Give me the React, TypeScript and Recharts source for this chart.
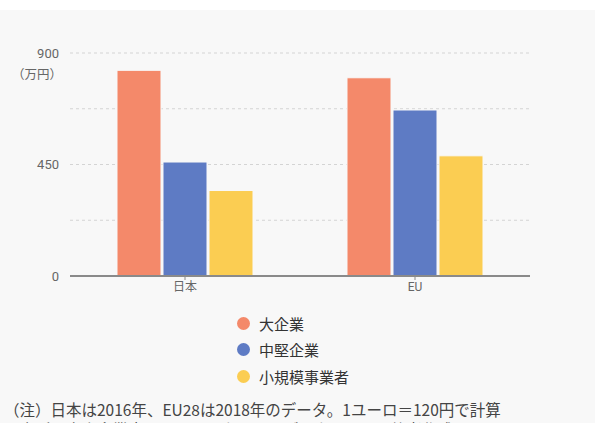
import React from "react";
import { BarChart, Bar, XAxis, YAxis, CartesianGrid } from "recharts";

const regions = ["日本", "EU"];
const large = [830, 800];
const medium = [460, 670];
const small = [345, 485];
const yTicks = [0, 450, 900];
const gridLines = [225, 450, 675, 900];

const seriesNames = ["大企業", "中堅企業", "小規模事業者"];
const colors = ["#f4896a", "#5e7bc4", "#fbcd52"];

const data = regions.map((r, i) => ({
  name: r,
  large: large[i],
  medium: medium[i],
  small: small[i],
}));

const font = "Roboto, 'Noto Sans CJK JP', sans-serif";
const jpFont = "'Noto Sans CJK JP', sans-serif";

const App: React.FC = () => {
  return (
    <div
      style={{
        position: "absolute",
        top: 0,
        left: 0,
        width: 595,
        height: 423,
        overflow: "hidden",
        background: "#fff",
        fontFamily: font,
      }}
    >
      <div style={{ position: "absolute", top: 10, left: 0, width: 595, height: 413, background: "#f8f8f8" }} />
      <div style={{ position: "absolute", top: 0, left: 0 }}>
        <BarChart
          width={595}
          height={300}
          data={data}
          margin={{ top: 53, right: 65, left: 0, bottom: 4 }}
          barSize={44}
          barGap={2}
        >
          <CartesianGrid
            vertical={false}
            horizontalValues={gridLines}
            stroke="#d4d4d4"
            strokeDasharray="3 3"
          />
          <YAxis
            domain={[0, 900]}
            ticks={yTicks}
            width={70}
            axisLine={false}
            tickLine={false}
            tickSize={0}
            tickMargin={11}
            tick={{ fontSize: 13, fill: "#666", fontFamily: font }}
          />
          <XAxis
            dataKey="name"
            height={20}
            axisLine={{ stroke: "#8a8a8a", strokeWidth: 2 }}
            tickLine={{ stroke: "#8a8a8a" }}
            tickSize={4}
            tick={{ fontSize: 12, fill: "#666", fontFamily: font }}
          />
          <Bar dataKey="large" fill={colors[0]} stroke="#f8f8f8" strokeWidth={1} isAnimationActive={false} />
          <Bar dataKey="medium" fill={colors[1]} stroke="#f8f8f8" strokeWidth={1} isAnimationActive={false} />
          <Bar dataKey="small" fill={colors[2]} stroke="#f8f8f8" strokeWidth={1} isAnimationActive={false} />
        </BarChart>
      </div>
      <div
        style={{
          position: "absolute",
          top: 64,
          left: 0,
          width: 62,
          textAlign: "right",
          fontSize: 12.5,
          color: "#666",
          fontFamily: jpFont,
        }}
      >
        （万円）
      </div>
      <div style={{ position: "absolute", top: 310, left: 237, fontFamily: jpFont }}>
        {seriesNames.map((n, i) => (
          <div key={n} style={{ display: "flex", alignItems: "center", height: 26.5 }}>
            <span
              style={{
                width: 13,
                height: 13,
                borderRadius: 7,
                background: colors[i],
                marginRight: 9,
                display: "inline-block",
              }}
            />
            <span style={{ fontSize: 15, color: "#333" }}>{n}</span>
          </div>
        ))}
      </div>
      <div
        style={{
          position: "absolute",
          top: 399,
          left: 4,
          fontSize: 15.5,
          color: "#444",
          lineHeight: "20px",
          fontFamily: jpFont,
          whiteSpace: "nowrap",
        }}
      >
        <div>（注）日本は2016年、EU28は2018年のデータ。1ユーロ＝120円で計算</div>
        <div>（出所）中小企業庁、ユーロスタットのデータをもとに筆者作成</div>
      </div>
    </div>
  );
};

export default App;
